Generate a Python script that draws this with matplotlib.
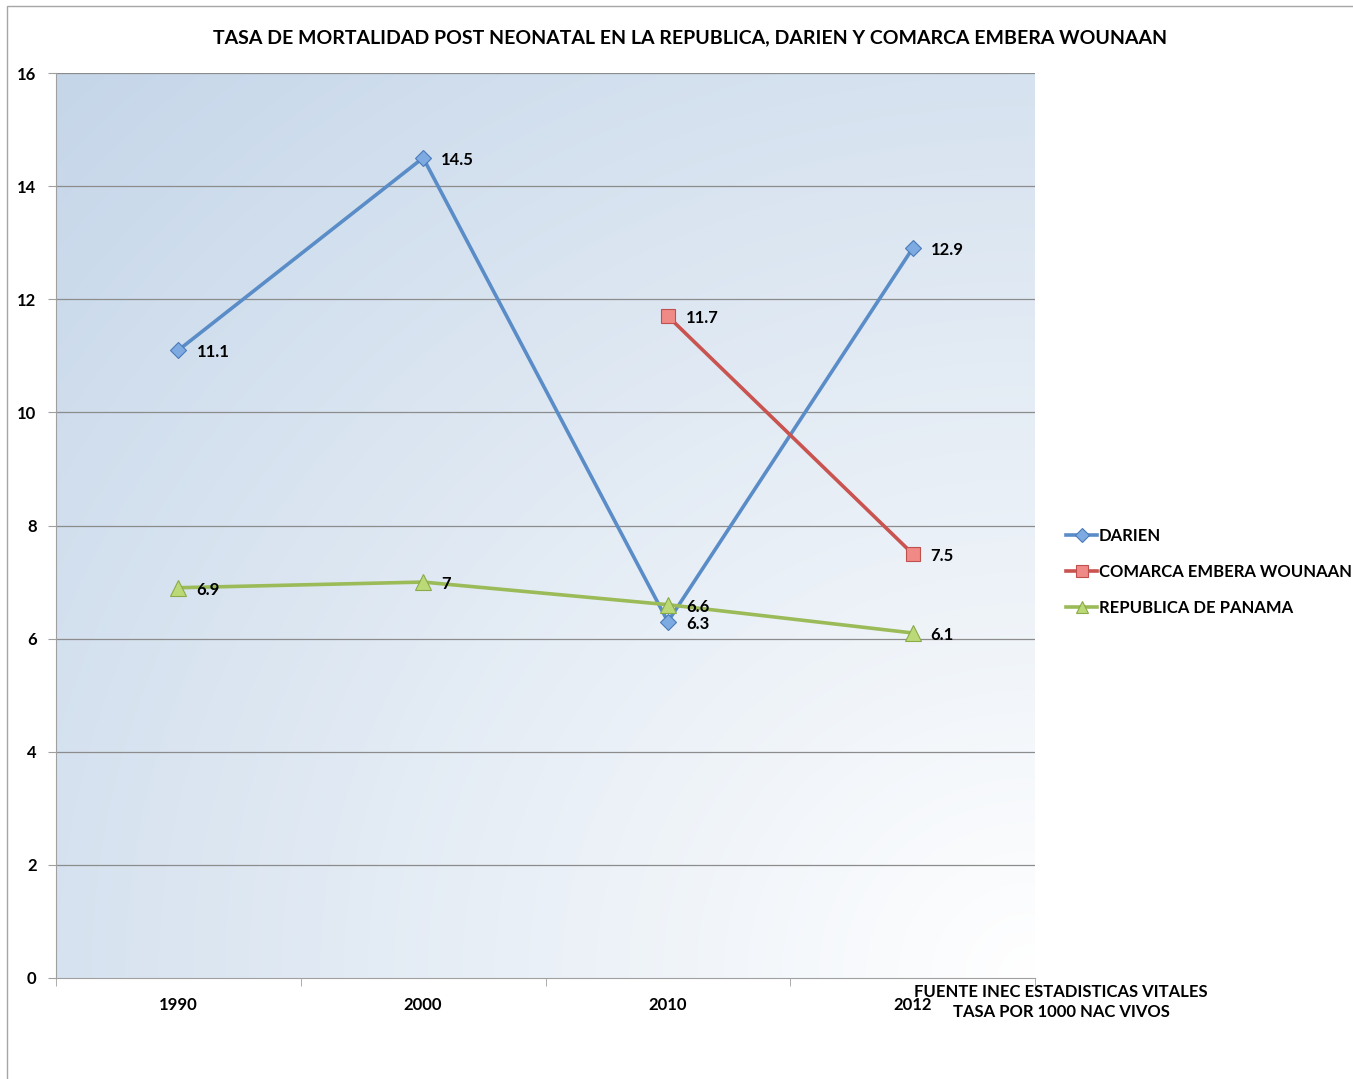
import matplotlib
matplotlib.use("Agg")
import matplotlib.pyplot as plt
import numpy as np
from matplotlib.patches import Rectangle
from matplotlib.lines import Line2D

plt.rcParams['font.family'] = ['Lato', 'DejaVu Sans']

years = ["1990", "2000", "2010", "2012"]
darien = [11.1, 14.5, 6.3, 12.9]
comarca = [np.nan, np.nan, 11.7, 7.5]
panama = [6.9, 7.0, 6.6, 6.1]
darien_lbl = ["11.1", "14.5", "6.3", "12.9"]
comarca_lbl = [None, None, "11.7", "7.5"]
panama_lbl = ["6.9", "7", "6.6", "6.1"]
yticks = [0, 2, 4, 6, 8, 10, 12, 14, 16]

W, H = 1353, 1079
fig = plt.figure(figsize=(W / 100, H / 100), dpi=100)
fig.patch.set_facecolor("white")

# outer chart border
fig.patches.append(Rectangle((7 / W, -0.05), 1.2, 1 - 6 / H + 0.05, transform=fig.transFigure,
                             fill=False, edgecolor="#a6a6a6", linewidth=1.0))

ax = fig.add_axes([56 / W, 1 - 978 / H, (1035 - 56) / W, (978 - 73) / H])
x = np.arange(len(years))
ax.set_xlim(-0.5, len(years) - 0.5)

# gradient background
nx, ny = 200, 200
gx, gy = np.meshgrid(np.linspace(0, 1, nx), np.linspace(0, 1, ny))
d = np.sqrt(((1 - gx) ** 2 + (1 - gy) ** 2) / 2)
d = np.clip(d, 0, 1)
c0 = np.array([1.0, 1.0, 1.0])
c1 = np.array([0xc5, 0xd6, 0xe9]) / 255
img = c0[None, None, :] * (1 - d[..., None]) + c1[None, None, :] * d[..., None]
ax.imshow(img, extent=[-0.5, len(years) - 0.5, 0, 16], origin="upper", aspect="auto", zorder=0,
          interpolation="bilinear")
ax.set_ylim(0, 16)

for yv in yticks[1:]:
    ax.axhline(yv, color="#8c8c8c", linewidth=0.9, zorder=1)

for s in ["top", "right"]:
    ax.spines[s].set_visible(False)
ax.spines["left"].set_color("#a0a0a0")
ax.spines["bottom"].set_color("#a0a0a0")

ax.set_yticks(yticks)
ax.set_yticklabels([str(v) for v in yticks], fontsize=12, fontweight="bold")
ax.tick_params(axis="y", length=6, color="#a0a0a0", pad=8)
ax.set_xticks(x)
ax.set_xticklabels(years, fontsize=12, fontweight="bold")
ax.tick_params(axis="x", length=0, pad=14)
ax.set_xticks(np.arange(-0.5, len(years)), minor=True)
ax.tick_params(axis="x", which="minor", length=6, color="#a0a0a0")

blue_l, blue_m, blue_e = "#5a8cc8", "#7eaae2", "#4a7ab8"
red_l, red_m, red_e = "#c9534f", "#f08a86", "#c0504d"
green_l, green_m, green_e = "#9bbb59", "#bcd978", "#8aab48"

ax.plot(x, darien, color=blue_l, linewidth=2.6, marker="D", markersize=8,
        markerfacecolor=blue_m, markeredgecolor=blue_e, markeredgewidth=0.8, zorder=3)
ax.plot(x, comarca, color=red_l, linewidth=2.6, marker="s", markersize=10,
        markerfacecolor=red_m, markeredgecolor=red_e, markeredgewidth=0.8, zorder=3)
ax.plot(x, panama, color=green_l, linewidth=2.6, marker="^", markersize=11,
        markerfacecolor=green_m, markeredgecolor=green_e, markeredgewidth=0.8, zorder=4)

def labels(vals, lbls):
    for xi, v, l in zip(x, vals, lbls):
        if l is None:
            continue
        ax.annotate(l, (xi, v), xytext=(18, -2), textcoords="offset pixels",
                    ha="left", va="center", fontsize=12, fontweight="bold", zorder=5)

labels(darien, darien_lbl)
labels(comarca, comarca_lbl)
labels(panama, panama_lbl)

fig.text(690 / W, 1 - 38 / H, "TASA DE MORTALIDAD POST NEONATAL EN LA REPUBLICA, DARIEN Y COMARCA EMBERA WOUNAAN",
         ha="center", va="center", fontsize=14, fontweight="bold")

# legend
handles = [
    Line2D([], [], color=blue_l, linewidth=2.6, marker="D", markersize=7,
           markerfacecolor=blue_m, markeredgecolor=blue_e, markeredgewidth=0.8),
    Line2D([], [], color=red_l, linewidth=2.6, marker="s", markersize=8,
           markerfacecolor=red_m, markeredgecolor=red_e, markeredgewidth=0.8),
    Line2D([], [], color=green_l, linewidth=2.6, marker="^", markersize=9,
           markerfacecolor=green_m, markeredgecolor=green_e, markeredgewidth=0.8),
]
leg = fig.legend(handles, ["DARIEN", "COMARCA EMBERA WOUNAAN", "REPUBLICA DE PANAMA"],
                 loc="center left", bbox_to_anchor=(1059 / W, 1 - 572 / H), frameon=False,
                 prop={"size": 12, "weight": "bold"}, handlelength=1.9, handletextpad=0.1,
                 labelspacing=1.2, borderaxespad=0)

fig.text(1061 / W, 1 - 1002 / H, "FUENTE INEC ESTADISTICAS VITALES\nTASA POR 1000 NAC VIVOS",
         ha="center", va="center", fontsize=12, fontweight="bold", linespacing=1.3)

fig.savefig("out.png", dpi=100)
